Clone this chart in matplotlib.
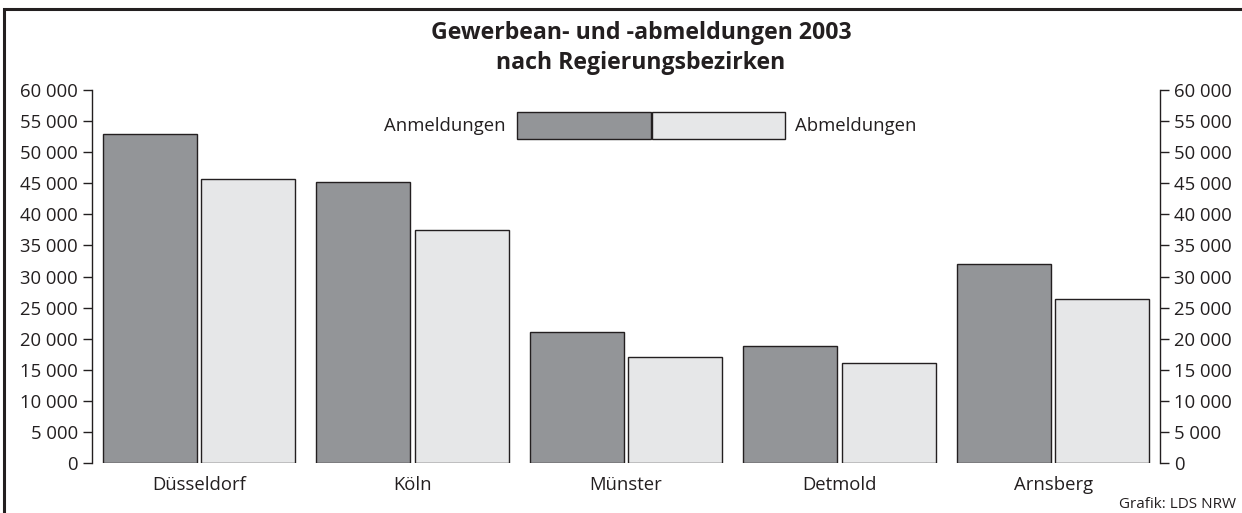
import matplotlib
matplotlib.use("Agg")
import matplotlib.pyplot as plt
from matplotlib.patches import Rectangle
import numpy as np

plt.rcParams['font.family'] = ['Open Sans', 'DejaVu Sans']

categories = ["Düsseldorf", "Köln", "Münster", "Detmold", "Arnsberg"]
anmeldungen = [52900, 45200, 21100, 18800, 32000]
abmeldungen = [45700, 37500, 17000, 16100, 26400]
yticks = list(range(0, 60001, 5000))
ytick_labels = [f"{v:,}".replace(",", " ") for v in yticks]

DARK = "#939598"
LIGHT = "#e6e7e8"
EDGE = "#231f20"

fig = plt.figure(figsize=(12.42, 5.13), dpi=100)
ax = fig.add_axes([92/1242, 1-463/513, (1160-92)/1242, (463-90)/513])

x = np.arange(len(categories)) + 0.5
w = 0.44
off = w/2 + 0.01
ax.bar(x - off, anmeldungen, width=w, color=DARK, edgecolor=EDGE, linewidth=1.0)
ax.bar(x + off, abmeldungen, width=w, color=LIGHT, edgecolor=EDGE, linewidth=1.0)

ax.set_xlim(0, 5)
ax.set_ylim(0, 60000)
ax.set_yticks(yticks)
ax.set_yticklabels(ytick_labels)
ax.tick_params(axis='y', which='both', left=True, right=True, labelleft=True, labelright=True,
               direction='out', length=6.5, width=1, color=EDGE, labelsize=13.3, pad=3.5,
               labelcolor=EDGE)
ax.set_xticks(x)
ax.set_xticklabels(categories)
ax.tick_params(axis='x', length=0, labelsize=13.3, pad=9, labelcolor=EDGE)
for s in ['top', 'bottom']:
    ax.spines[s].set_visible(False)
for s in ['left', 'right']:
    ax.spines[s].set_color(EDGE)
    ax.spines[s].set_linewidth(1)

# Title
fig.text(641/1242, 1-33/513, "Gewerbean- und -abmeldungen 2003", ha='center', va='center',
         fontsize=16.7, fontweight='bold', color=EDGE)
fig.text(641/1242, 1-63/513, "nach Regierungsbezirken", ha='center', va='center',
         fontsize=16.7, fontweight='bold', color=EDGE)

# Legend
fig.patches.append(Rectangle((517/1242, 1-139/513), (651-517)/1242, 27/513,
                             transform=fig.transFigure, facecolor=DARK, edgecolor=EDGE, linewidth=1))
fig.patches.append(Rectangle((652/1242, 1-139/513), (785-652)/1242, 27/513,
                             transform=fig.transFigure, facecolor=LIGHT, edgecolor=EDGE, linewidth=1))
fig.text(506/1242, 1-126/513, "Anmeldungen", ha='right', va='center', fontsize=13.3, color=EDGE)
fig.text(795/1242, 1-126/513, "Abmeldungen", ha='left', va='center', fontsize=13.3, color=EDGE)

# Source
fig.text(1236/1242, 1-505/513, "Grafik: LDS NRW", ha='right', va='center', fontsize=11, color=EDGE)

# Frame
fig.patches.append(Rectangle((4/1242, -0.05), 1.05, 1.05 - 9/513,
                             transform=fig.transFigure, facecolor='none', edgecolor=EDGE, linewidth=2.2))

fig.savefig("out.png", dpi=100)
